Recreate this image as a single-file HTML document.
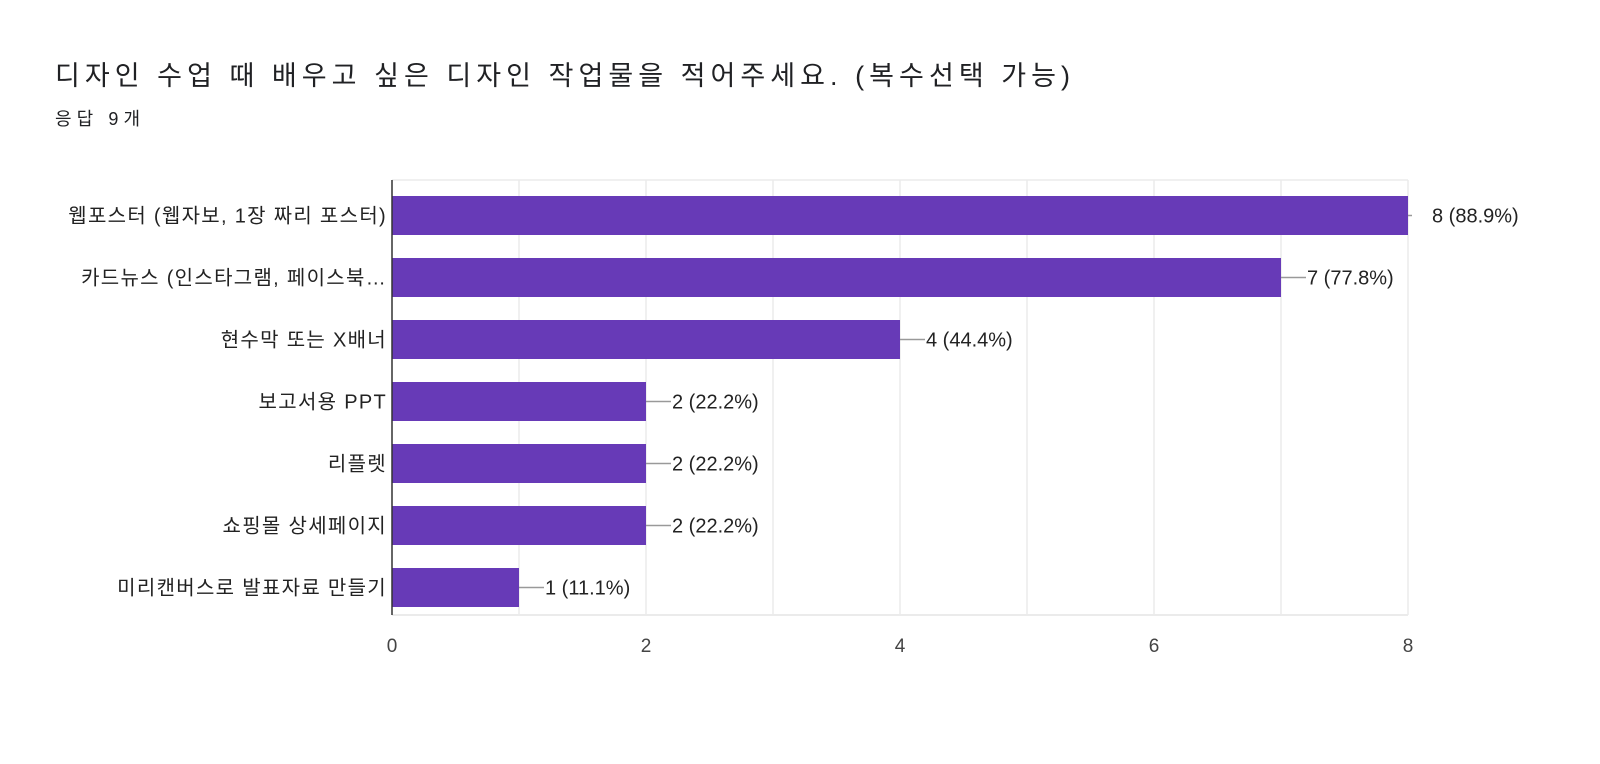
<!DOCTYPE html>
<html><head><meta charset="utf-8"><style>
body{margin:0;background:#fff;width:1600px;height:759px;overflow:hidden;font-family:"Liberation Sans","Noto Sans CJK KR",sans-serif}
</style></head><body>
<svg width="1600" height="759" font-family="Liberation Sans, Noto Sans CJK KR, sans-serif">
<text x="55" y="85" font-size="27" fill="#202124" textLength="1015" lengthAdjust="spacing">디자인 수업 때 배우고 싶은 디자인 작업물을 적어주세요. (복수선택 가능)</text>
<text x="55" y="125" font-size="18" fill="#202124" textLength="85" lengthAdjust="spacing">응답 9개</text>
<g id="plot"></g>
</svg>
<script>
const categories=["웹포스터 (웹자보, 1장 짜리 포스터)","카드뉴스 (인스타그램, 페이스북…","현수막 또는 X배너","보고서용 PPT","리플렛","쇼핑몰 상세페이지","미리캔버스로 발표자료 만들기"];
const values=[8,7,4,2,2,2,1];
const valueLabels=["8 (88.9%)","7 (77.8%)","4 (44.4%)","2 (22.2%)","2 (22.2%)","2 (22.2%)","1 (11.1%)"];
const ticks=[0,2,4,6,8];
const NS="http://www.w3.org/2000/svg";
const plotG=document.getElementById('plot');
const X0=392,X1=1408,XMAX=8,PTOP=180,PBOT=615,PITCH=62,BH=39,FIRST=196;
const xs=v=>X0+(X1-X0)*v/XMAX;
function mk(t,a){const e=document.createElementNS(NS,t);for(const k in a)e.setAttribute(k,a[k]);plotG.appendChild(e);return e;}
for(let v=1;v<=XMAX;v++){
 const l=mk('line',{x1:xs(v),x2:xs(v),y1:PTOP,y2:PBOT,stroke:'#ebebeb','stroke-width':1.5});
 
 
}
const tl=mk('line',{x1:X0,x2:X1,y1:PTOP,y2:PTOP,stroke:'#ebebeb','stroke-width':1.5});


const bl=mk('line',{x1:X0,x2:X1,y1:PBOT,y2:PBOT,stroke:'#ebebeb','stroke-width':2});


ticks.forEach(t=>{
 const e=mk('text',{x:xs(t),y:652,'font-size':19,fill:'#444','text-anchor':'middle'});
 e.textContent=t;
 
 
});
categories.forEach((c,i)=>{
 const y=FIRST+i*PITCH, cy=y+BH/2;
 const r=mk('rect',{x:X0,y:y,width:xs(values[i])-X0,height:BH,fill:'#673ab7'});
 
 
 const lab=mk('text',{x:X0-5,y:cy+7,'font-size':20,fill:'#222','text-anchor':'end','letter-spacing':'1.3'});
 lab.textContent=c;
 
 
 const ex=xs(values[i]);
 const isMax=values[i]===XMAX;
 const ln=mk('line',{x1:ex,x2:ex+(isMax?4:25),y1:cy,y2:cy,stroke:'#999','stroke-width':1.5});
 
 
 const vt=mk('text',{x:ex+(isMax?24:26),y:cy+7,'font-size':20,fill:'#222'});
 vt.textContent=valueLabels[i];
 
 
});
const ax=mk('line',{x1:X0,x2:X0,y1:PTOP,y2:PBOT,stroke:'#333','stroke-width':1.5});


</script>
</body></html>
